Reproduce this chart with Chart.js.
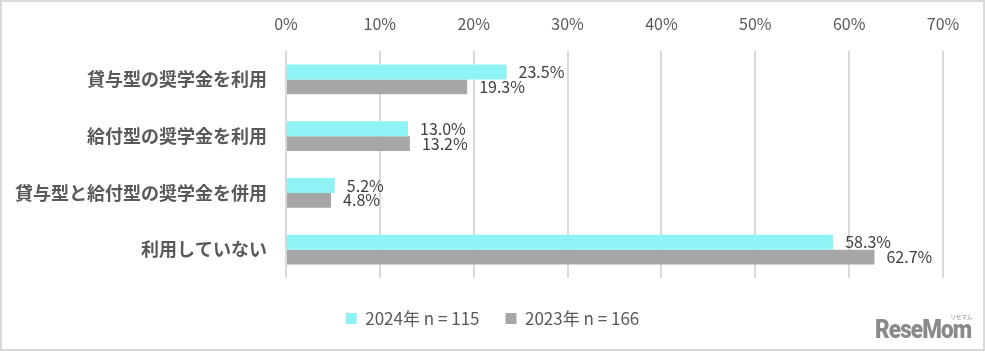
<!DOCTYPE html>
<html>
<head>
<meta charset="utf-8">
<script src="https://cdn.jsdelivr.net/npm/chart.js@4"></script>
<style>
  body { margin: 0; background: #fff; }
  #wrap { position: relative; width: 985px; height: 352px; }
  #frame {
    position: absolute; left: 0; top: 0; width: 985px; height: 351px;
    box-sizing: border-box; border: 2px solid #d9d9d9; pointer-events: none;
  }
  #logo {
    position: absolute; left: 875px; top: 315px; white-space: nowrap;
    font-family: Roboto, sans-serif; font-weight: 900; font-size: 25px;
    color: #8a8a8a; letter-spacing: -1px; transform: scaleX(0.9); transform-origin: left top;
  }
  #logo small {
    position: absolute; left: 84px; top: -3px; font-size: 6px; font-weight: 400; letter-spacing: 0;
    font-family: "Noto Sans CJK JP", sans-serif; white-space: nowrap;
  }
</style>
</head>
<body>
<div id="wrap">
  <canvas id="chart" width="985" height="352"></canvas>
  <div id="frame"></div>
  <div id="logo">ReseMom<small>リセマム</small></div>
</div>
<script>
// データ
const categories = ['貸与型の奨学金を利用', '給付型の奨学金を利用', '貸与型と給付型の奨学金を併用', '利用していない'];
const seriesNames = ['2024年 n = 115', '2023年 n = 166'];
const values2024 = [23.5, 13.0, 5.2, 58.3];
const values2023 = [19.3, 13.2, 4.8, 62.7];
const axisMax = 70;

const FONT = '"Noto Sans CJK JP", "Noto Sans", sans-serif';
const TEXT = '#595959';

// バーの右側に値を描く
const valueLabels = {
    id: 'valueLabels',
    afterDatasetsDraw(chart) {
        const ctx = chart.ctx;
        ctx.save();
        ctx.font = '16px ' + FONT;
        ctx.fillStyle = '#404040';
        ctx.textAlign = 'left';
        ctx.textBaseline = 'middle';
        chart.data.datasets.forEach((ds, i) => {
            chart.getDatasetMeta(i).data.forEach((bar, j) => {
                ctx.fillText(ds.data[j].toFixed(1) + '%', bar.x + 12, bar.y);
            });
        });
        ctx.restore();
    }
};

// 余白用のダミー軸（何も描かない）
const spacer = (size) => ({
    display: true,
    ticks: { display: false },
    grid: { display: false },
    border: { display: false },
    afterFit: s => { if (s.isHorizontal()) s.height = size; else s.width = size; }
});

new Chart(document.getElementById('chart'), {
    type: 'bar',
    data: {
        labels: categories,
        datasets: [
            { label: seriesNames[0], data: values2024, backgroundColor: '#8ff3f5' },
            { label: seriesNames[1], data: values2023, backgroundColor: '#a6a6a6' }
        ]
    },
    options: {
        indexAxis: 'y',
        responsive: false,
        animation: false,
        layout: { padding: { left: 0, right: 0, top: 0, bottom: 15 } },
        datasets: { bar: { barPercentage: 1.0, categoryPercentage: 0.52 } },
        scales: {
            x: {
                position: 'top',
                min: 0,
                max: axisMax,
                ticks: {
                    stepSize: 10,
                    color: TEXT,
                    font: { family: FONT, size: 16 },
                    padding: 17,
                    callback: v => v + '%'
                },
                grid: { color: '#d9d9d9', lineWidth: 2, drawTicks: false },
                border: { display: false },
                afterFit: s => { s.height = 51; }
            },
            xPad: Object.assign({ type: 'linear', position: 'bottom', axis: 'x' }, spacer(6)),
            y: {
                ticks: {
                    color: TEXT,
                    font: { family: FONT, size: 18, weight: 'bold' },
                    padding: 11
                },
                grid: { display: false },
                border: { display: false },
                afterFit: s => { s.width = 286; }
            },
            yPad: Object.assign({ type: 'linear', position: 'right', axis: 'y' }, spacer(42))
        },
        plugins: {
            legend: {
                position: 'bottom',
                labels: {
                    color: TEXT,
                    font: { family: FONT, size: 17 },
                    boxWidth: 11,
                    boxHeight: 11,
                    padding: 26
                }
            },
            tooltip: { enabled: false }
        }
    },
    plugins: [valueLabels]
});
</script>
</body>
</html>
